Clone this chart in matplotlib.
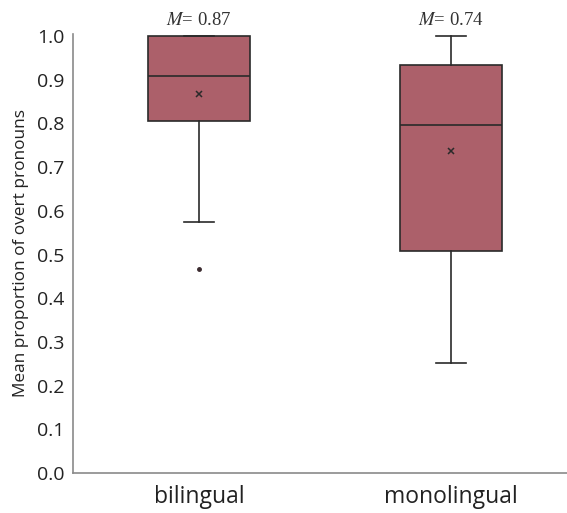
import matplotlib
matplotlib.use("Agg")
from matplotlib import pyplot as plt

groups = ["bilingual", "monolingual"]
q1 = [0.806, 0.508]
med = [0.909, 0.797]
q3 = [1.0, 0.934]
whislo = [0.574, 0.251]
whishi = [1.0, 1.0]
means = [0.868, 0.738]
outliers = [[0.467], []]
mean_labels = ["0.87", "0.74"]

plt.rcParams['font.family'] = ['Open Sans', 'DejaVu Sans']
plt.rcParams['mathtext.fontset'] = 'stix'

stats = []
for i in range(len(groups)):
    stats.append(dict(label=groups[i], q1=q1[i], med=med[i], q3=q3[i],
                      whislo=whislo[i], whishi=whishi[i], mean=means[i],
                      fliers=outliers[i]))

fig = plt.figure(figsize=(5.67, 5.13), dpi=100)
ax = fig.add_axes([0.1287, 0.078, 0.8713, 0.856])

line = dict(color='#2a2a2a', linewidth=1.2)
ax.bxp(stats, positions=[1, 2], widths=0.405, capwidths=0.12, patch_artist=True, showmeans=True,
       boxprops=dict(facecolor='#ac606a', edgecolor='#2a2a2a', linewidth=1.2),
       medianprops=line, whiskerprops=line, capprops=line,
       meanprops=dict(marker='x', markeredgecolor='#2a2a2a', markersize=5, markeredgewidth=1.1),
       flierprops=dict(marker='o', markersize=2.5, markerfacecolor='#3a2a2e', markeredgecolor='#3a2a2e'))

for i in range(len(groups)):
    ax.text(i + 1, 1.036, '$M$= ' + mean_labels[i], ha='center', va='center',
            fontsize=13.5, family='Liberation Serif', color='#333333', clip_on=False)

ax.set_xlim(0.5, 2.46)
ax.set_ylim(0, 1.005)
ax.set_yticks([i / 10 for i in range(11)])
ax.set_yticklabels(['%.1f' % (i / 10) for i in range(11)], fontsize=14, color='#222222')
ax.set_xticks([1, 2])
ax.set_xticklabels(groups, fontsize=16.5, color='#222222')
ax.tick_params(length=0, pad=6)
ax.tick_params(axis='x', pad=9)
ax.set_ylabel('Mean proportion of overt pronouns', fontsize=12.4, color='#222222', labelpad=6)

for s in ['top', 'right']:
    ax.spines[s].set_visible(False)
for s in ['left', 'bottom']:
    ax.spines[s].set_color('#8a8a8a')
    ax.spines[s].set_linewidth(1.2)

fig.savefig('out.png', dpi=100)
